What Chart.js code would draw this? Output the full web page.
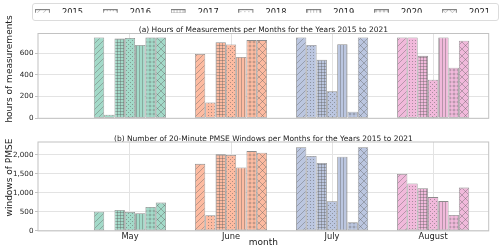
<!DOCTYPE html>
<html>
<head>
<meta charset="utf-8">
<script src="https://cdn.jsdelivr.net/npm/chart.js@4.4.1/dist/chart.umd.min.js"></script>
<style>
html, body { margin: 0; padding: 0; background: #fff; }
#wrap { position: relative; width: 500px; height: 251px; }
#c1 { position: absolute; left: 0; top: 0; }
#c2 { position: absolute; left: 0; top: 125px; }
</style>
</head>
<body>
<div id="wrap">
  <canvas id="c1" width="500" height="125"></canvas>
  <canvas id="c2" width="500" height="126"></canvas>
</div>
<script>
const years = ['2015', '2016', '2017', '2018', '2019', '2020', '2021'];
const months = ['May', 'June', 'July', 'August'];
const monthPos = [5, 6, 7, 8];

// hours of measurements, one value per year
const hoursMay = [744, 33, 735, 740, 675, 744, 744];
const hoursJune = [592, 145, 700, 680, 565, 720, 720];
const hoursJuly = [744, 675, 540, 250, 683, 60, 744];
const hoursAugust = [744, 744, 575, 355, 744, 465, 715];

// number of 20-minute PMSE windows, one value per year
const windowsMay = [505, 0, 550, 500, 465, 630, 745];
const windowsJune = [1765, 415, 2015, 2000, 1670, 2100, 2060];
const windowsJuly = [2200, 1970, 1790, 780, 1950, 230, 2200];
const windowsAugust = [1500, 1250, 1125, 890, 785, 420, 1140];

const hourTicks = [0, 200, 400, 600];
const windowTicks = [0, 500, 1000, 1500, 2000];

const monthColors = ['rgb(163,218,201)', 'rgb(253,187,161)', 'rgb(187,198,224)', 'rgb(241,185,219)'];
const hatchKinds = ['//', 'o', '+', '.', '|', 'O', 'x'];
const hatchColor = 'rgba(95,95,95,0.5)';
const edgeColor = 'rgba(120,120,120,0.85)';
const gridColor = '#e3e3e3';
const frameColor = '#c2c2c2';
const textColor = '#222';
const FONT = 'DejaVu Sans';

function tile(kind, fill) {
  const sizes = {'//': 6, 'o': 3, '+': 3, '.': 4, '|': 3, 'O': 4, 'x': 7};
  const s = sizes[kind];
  const c = document.createElement('canvas');
  c.width = s; c.height = s;
  const g = c.getContext('2d');
  g.fillStyle = fill;
  g.fillRect(0, 0, s, s);
  g.strokeStyle = hatchColor;
  g.fillStyle = hatchColor;
  g.lineWidth = 0.8;
  g.beginPath();
  if (kind == '//' || kind == 'x') {
    g.moveTo(0, s); g.lineTo(s, 0);
    g.moveTo(-1, 1); g.lineTo(1, -1);
    g.moveTo(s - 1, s + 1); g.lineTo(s + 1, s - 1);
  }
  if (kind == 'x') {
    g.moveTo(0, 0); g.lineTo(s, s);
    g.moveTo(-1, s - 1); g.lineTo(1, s + 1);
    g.moveTo(s - 1, -1); g.lineTo(s + 1, 1);
  }
  if (kind == '+') {
    g.moveTo(0.5, 0); g.lineTo(0.5, s);
    g.moveTo(0, 0.5); g.lineTo(s, 0.5);
  }
  if (kind == '|') {
    g.moveTo(1.5, 0); g.lineTo(1.5, s);
  }
  g.stroke();
  if (kind == 'o') g.fillRect(1, 1, 1, 1);
  if (kind == '.') { g.fillRect(0, 0, 1, 1); g.fillRect(2, 2, 1, 1); }
  if (kind == 'O') {
    g.beginPath(); g.arc(2, 2, 1, 0, Math.PI * 2); g.stroke();
  }
  return c;
}

const patCtx = document.createElement('canvas').getContext('2d');
function pattern(kind, fill) {
  return patCtx.createPattern(tile(kind, fill), 'repeat');
}

function legendIcon(kind) {
  const c = document.createElement('canvas');
  c.width = 23; c.height = 7;
  const g = c.getContext('2d');
  g.fillStyle = pattern(kind, '#fff');
  g.fillRect(0.5, 0.5, 14, 6);
  g.strokeStyle = 'rgba(120,120,120,0.9)';
  g.lineWidth = 1;
  g.strokeRect(0.5, 0.5, 14, 6);
  return c;
}
const legendIcons = hatchKinds.map(legendIcon);

function makeDatasets(byMonth) {
  return years.map((yr, k) => ({
    label: yr,
    data: monthPos.map((x, i) => ({x: x, y: byMonth[i][k]})),
    backgroundColor: monthColors.map(col => pattern(hatchKinds[k], col)),
    borderColor: edgeColor,
    borderWidth: 0.8,
    borderSkipped: false,
    categoryPercentage: 0.714,
    barPercentage: 1
  }));
}

const framePlugin = {
  id: 'frame',
  afterDatasetsDraw(chart) {
    const a = chart.chartArea;
    const g = chart.ctx;
    g.save();
    g.strokeStyle = frameColor;
    g.lineWidth = 1;
    g.strokeRect(a.left, a.top, a.right - a.left, a.bottom - a.top);
    g.restore();
  }
};

// y label drawn as rotated text, centred where the reference has it
function yLabel(text, cy) {
  return {
    id: 'ylabel',
    afterDraw(chart) {
      const g = chart.ctx;
      g.save();
      g.translate(10, cy);
      g.rotate(-Math.PI / 2);
      g.font = '9px "' + FONT + '"';
      g.fillStyle = textColor;
      g.textAlign = 'center';
      g.textBaseline = 'middle';
      g.fillText(text, 0, 0);
      g.restore();
    }
  };
}

const legendPlugin = {
  id: 'legendPlace',
  afterLayout(chart) {
    const lg = chart.legend;
    const pad = lg.options.labels.padding;
    const start = (lg.left + pad + lg.right - lg.lineWidths[0]) / 2;
    const dx = 35 - start;
    lg.left += dx; lg.right += dx;
    lg.top = -11.2; lg.bottom = lg.top + lg.height;
  },
  beforeDraw(chart) {
    const g = chart.ctx;
    g.save();
    g.strokeStyle = '#dcdcdc';
    g.lineWidth = 1;
    g.beginPath();
    g.roundRect(32.5, 3.5, 466, 17, 2.5);
    g.stroke();
    g.restore();
  }
};

function yAxis(ticks, max) {
  return {
    type: 'linear',
    min: 0,
    max: max,
    afterBuildTicks: axis => { axis.ticks = ticks.map(v => ({value: v})); },
    afterFit: axis => { axis.width = 38; },
    ticks: {font: {family: FONT, size: 7.2}, color: textColor, padding: 1.5},
    grid: {color: gridColor, tickColor: frameColor, tickLength: 3},
    border: {display: false}
  };
}

// empty right axis only keeps the plot edge at x = 488.7
const rightGap = {
  type: 'linear',
  position: 'right',
  afterFit: axis => { axis.width = 11.3; },
  ticks: {display: false},
  grid: {display: false},
  border: {display: false}
};

function xAxis(showLabels, height) {
  return {
    type: 'linear',
    min: 4.09,
    max: 8.55,
    offset: false,
    afterBuildTicks: axis => { axis.ticks = monthPos.map(v => ({value: v})); },
    afterFit: axis => { axis.height = height; },
    ticks: {
      display: showLabels,
      autoSkip: false,
      maxRotation: 0,
      font: {family: FONT, size: 8.3},
      color: textColor,
      padding: 1,
      callback: v => months[monthPos.indexOf(v)]
    },
    grid: {color: gridColor, drawTicks: false, offset: false},
    border: {display: false},
    title: {display: showLabels, text: 'month', font: {family: FONT, size: 9}, color: textColor, padding: {top: 0, bottom: 2.9}}
  };
}

new Chart(document.getElementById('c1'), {
  type: 'bar',
  data: {datasets: makeDatasets([hoursMay, hoursJune, hoursJuly, hoursAugust])},
  options: {
    responsive: false,
    animation: false,
    layout: {padding: 0},
    scales: {x: xAxis(false, 6.7), y: yAxis(hourTicks, 781), yR: rightGap},
    plugins: {
      tooltip: {enabled: false},
      legend: {
        display: true,
        position: 'top',
        maxHeight: 24,
        labels: {
          font: {family: FONT, size: 8.3},
          color: textColor,
          padding: 19.7,
          usePointStyle: true,
          pointStyleWidth: 22.85,
          generateLabels: chart => chart.data.datasets.map((ds, i) => ({
            text: ds.label,
            pointStyle: legendIcons[i],
            fillStyle: '#fff',
            strokeStyle: '#888',
            lineWidth: 0,
            hidden: false,
            datasetIndex: i,
            fontColor: textColor
          }))
        }
      },
      title: {
        display: true,
        fullSize: false,
        weight: 500,
        text: '(a) Hours of Measurements per Months for the Years 2015 to 2021',
        font: {family: FONT, size: 7.5, weight: 'normal', lineHeight: 1},
        color: textColor,
        padding: {top: 2, bottom: 0}
      }
    }
  },
  plugins: [framePlugin, legendPlugin, yLabel('hours of measurements', 69)]
});

new Chart(document.getElementById('c2'), {
  type: 'bar',
  data: {datasets: makeDatasets([windowsMay, windowsJune, windowsJuly, windowsAugust])},
  options: {
    responsive: false,
    animation: false,
    layout: {padding: 0},
    scales: {x: xAxis(true, 20.1), y: yAxis(windowTicks, 2340), yR: rightGap},
    plugins: {
      tooltip: {enabled: false},
      legend: {display: false},
      title: {
        display: true,
        fullSize: false,
        text: '(b) Number of 20-Minute PMSE Windows per Months for the Years 2015 to 2021',
        font: {family: FONT, size: 7.5, weight: 'normal', lineHeight: 1},
        color: textColor,
        padding: {top: 10.25, bottom: -0.75}
      }
    }
  },
  plugins: [framePlugin, yLabel('windows of PMSE', 52.5)]
});
</script>
</body>
</html>
